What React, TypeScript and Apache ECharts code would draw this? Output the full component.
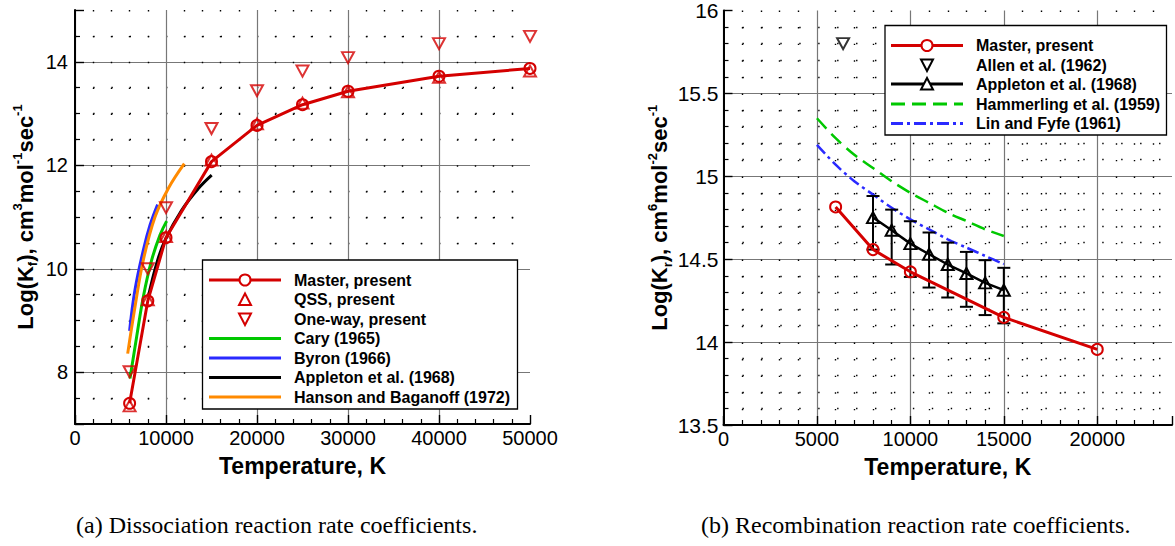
import React, { useEffect, useRef } from 'react';
import * as echarts from 'echarts';

// ---------- Panel (a): dissociation ----------
const tempA = [6000, 8000, 10000, 15000, 20000, 25000, 30000, 40000, 50000];
const masterA = [7.40, 9.38, 10.60, 12.07, 12.77, 13.17, 13.43, 13.72, 13.87];
const qssA = [7.35, 9.40, 10.62, 12.10, 12.80, 13.20, 13.42, 13.70, 13.82];
const oneWayA = [8.01, 10.00, 11.18, 12.71, 13.44, 13.82, 14.08, 14.35, 14.49];
const caryT = [6040, 6780, 7510, 8430, 9340, 10070];
const caryV = [7.88, 8.69, 9.46, 10.17, 10.65, 10.92];
const byronT = [6000, 6590, 7510, 8240, 9080];
const byronV = [8.80, 9.59, 10.36, 10.84, 11.24];
const appletonAT = [8060, 8970, 9890, 11720, 13550, 15020];
const appletonAV = [9.46, 10.10, 10.55, 11.13, 11.55, 11.81];
const hansonT = [5790, 6590, 7510, 8790, 10250, 12010];
const hansonV = [8.36, 9.26, 10.17, 11.00, 11.55, 12.03];
const legendA = ['Master, present', 'QSS, present', 'One-way, present', 'Cary (1965)', 'Byron (1966)', 'Appleton et al. (1968)', 'Hanson and Baganoff (1972)'];

// ---------- Panel (b): recombination ----------
const tempB = [6000, 8000, 10000, 15000, 20000];
const masterB = [14.815, 14.558, 14.424, 14.149, 13.956];
const allenT = [6400];
const allenV = [15.80];
const appletonBT = [8000, 9000, 10000, 11000, 12000, 13000, 14000, 15000];
const appletonBV = [14.751, 14.675, 14.594, 14.530, 14.468, 14.414, 14.357, 14.313];
const appletonBHi = [14.881, 14.799, 14.729, 14.661, 14.600, 14.544, 14.494, 14.448];
const appletonBLo = [14.558, 14.468, 14.393, 14.329, 14.269, 14.213, 14.163, 14.113];
const curveBT = [5000, 6000, 7000, 8000, 9000, 10000, 11000, 12000, 13000, 14000, 15000];
const hammerlingV = [15.35, 15.23, 15.13, 15.05, 14.97, 14.90, 14.84, 14.78, 14.73, 14.68, 14.64];
const linFyfeV = [15.19, 15.07, 14.97, 14.89, 14.81, 14.74, 14.68, 14.62, 14.57, 14.52, 14.47];
const legendB = ['Master, present', 'Allen et al. (1962)', 'Appleton et al. (1968)', 'Hammerling et al. (1959)', 'Lin and Fyfe (1961)'];

const xTicksA = { min: 0, max: 50000, interval: 10000 };
const yTicksA = { min: 7, max: 15, splitNumber: 4 };
const xTicksB = { min: 0, max: 24000, interval: 5000 };
const yTicksB = { min: 13.5, max: 16, interval: 0.5 };

const captionA = '(a) Dissociation reaction rate coefficients.';
const captionB = '(b) Recombination reaction rate coefficients.';

const RED = '#d40000';
const GREEN = '#00c800';
const BLUE = '#2a2aff';
const ORANGE = '#ff8a00';
const BLACK = '#000000';
const FONT = 'Liberation Sans';
const CLEAR = 'rgba(0,0,0,0)';
const DASH_H = [14, 7];
const DASH_L = [12, 4, 3, 4];

const zip = (xs: number[], ys: number[]) => xs.map((x, i) => [x, ys[i]]);

function axisCommon(minorSplit: number, dotPeriod: number) {
  return {
    axisLine: { show: true, onZero: false, lineStyle: { color: '#000', width: 2 } },
    axisTick: { show: true, inside: true, length: 9, lineStyle: { color: '#000', width: 1.4 } },
    minorTick: { show: true, splitNumber: minorSplit, length: 5, lineStyle: { color: '#000', width: 1.2 } },
    splitLine: { show: true, showMaxLine: false, lineStyle: { color: '#777', width: 1.2 } },
    minorSplitLine: {
      show: true,
      lineStyle: { color: '#000', width: 1.4, type: [1.4, dotPeriod - 1.4] },
    },
  };
}

const yNameRich = {
  b: { fontSize: 22, fontWeight: 'bold', fontFamily: FONT, color: '#000', lineHeight: 28, verticalAlign: 'middle' },
  sub: { fontSize: 13, fontWeight: 'bold', fontFamily: FONT, color: '#000', lineHeight: 13, verticalAlign: 'bottom' },
  sup: { fontSize: 13, fontWeight: 'bold', fontFamily: FONT, color: '#000', lineHeight: 13, verticalAlign: 'top' },
};

function legendGraphic(
  names: string[],
  kinds: { color: string; line?: boolean; dash?: number[]; marker?: 'circle' | 'up' | 'down' }[],
  box: { x: number; y: number; w: number; h: number },
  lineX1: number,
  lineX2: number,
  textX: number,
  rowY: number[],
) {
  const Z = 100;
  const children: any[] = [
    { type: 'rect', z: Z, shape: { x: box.x, y: box.y, width: box.w, height: box.h }, style: { fill: '#fff', stroke: '#000', lineWidth: 1.3 } },
  ];
  const cx = (lineX1 + lineX2) / 2;
  names.forEach((n, i) => {
    const k = kinds[i];
    const y = rowY[i];
    if (k.line) {
      children.push({
        type: 'line', z: Z + 1,
        shape: { x1: lineX1, y1: y, x2: lineX2, y2: y },
        style: { stroke: k.color, lineWidth: 3, lineDash: k.dash || null },
      });
    }
    if (k.marker === 'circle') {
      children.push({ type: 'circle', z: Z + 2, shape: { cx, cy: y, r: 5.5 }, style: { fill: '#fff', stroke: k.color, lineWidth: 2 } });
    } else if (k.marker === 'up') {
      children.push({ type: 'polygon', z: Z + 2, shape: { points: [[cx, y - 6], [cx - 6, y + 5.5], [cx + 6, y + 5.5]] }, style: { fill: '#fff', stroke: k.color, lineWidth: 2 } });
    } else if (k.marker === 'down') {
      children.push({ type: 'polygon', z: Z + 2, shape: { points: [[cx, y + 6], [cx - 6, y - 5.5], [cx + 6, y - 5.5]] }, style: { fill: '#fff', stroke: k.color, lineWidth: 2 } });
    }
    children.push({
      type: 'text', z: Z + 2,
      style: { text: n, x: textX, y, fontSize: 16, fontWeight: 'bold', fontFamily: FONT, fill: '#000', align: 'left', verticalAlign: 'middle' },
    });
  });
  return { type: 'group', z: Z, children };
}

export default function App() {
  const ref = useRef<HTMLDivElement>(null);
  useEffect(() => {
    if (!ref.current) return;
    const chart = echarts.init(ref.current, undefined, { renderer: 'svg' });

    const scatterStyle = (c: string) => ({ color: CLEAR, borderColor: c, borderWidth: 2 });
    const plain = (v: number) => String(v);

    const option: any = {
      animation: false,
      backgroundColor: '#fff',
      grid: [
        { left: 75, top: 10, width: 455, height: 414 },
        { left: 723.5, top: 10, width: 454.5, height: 415 },
      ],
      xAxis: [
        {
          gridIndex: 0, type: 'value', ...xTicksA,
          ...axisCommon(5, 414 / 16),
          name: 'Temperature, K', nameLocation: 'middle', nameGap: 30,
          nameTextStyle: { fontSize: 23, fontWeight: 'bold', fontFamily: FONT, color: '#000' },
          axisLabel: { fontSize: 20, fontFamily: FONT, color: '#000', margin: 4, formatter: plain },
        },
        {
          gridIndex: 1, type: 'value', ...xTicksB,
          ...axisCommon(5, 415 / 25),
          name: 'Temperature, K', nameLocation: 'middle', nameGap: 30,
          nameTextStyle: { fontSize: 23, fontWeight: 'bold', fontFamily: FONT, color: '#000' },
          axisLabel: {
            fontSize: 20, fontFamily: FONT, color: '#000', margin: 4,
            formatter: (v: number) => (v % 5000 === 0 ? String(v) : ''),
          },
        },
      ],
      yAxis: [
        {
          gridIndex: 0, type: 'value', ...yTicksA,
          ...axisCommon(4, 455 / 25),
          name: '{b|Log(K}{sub|f}{b|), cm}{sup|3}{b|mol}{sup|-1}{b|sec}{sup|-1}',
          nameLocation: 'middle', nameRotate: 90, nameGap: 36,
          nameTextStyle: { rich: yNameRich },
          axisLabel: {
            fontSize: 20, fontFamily: FONT, color: '#000', margin: 7,
            formatter: (v: number) => (Math.abs(v % 2) < 1e-9 ? String(v) : ''),
          },
        },
        {
          gridIndex: 1, type: 'value', ...yTicksB,
          ...axisCommon(5, 454.5 / 24),
          name: '{b|Log(K}{sub|r}{b|), cm}{sup|6}{b|mol}{sup|-2}{b|sec}{sup|-1}',
          nameLocation: 'middle', nameRotate: 90, nameGap: 48,
          nameTextStyle: { rich: yNameRich },
          axisLabel: { fontSize: 21, fontFamily: FONT, color: '#000', margin: 5, formatter: plain },
        },
      ],
      series: [
        // Panel (a)
        {
          name: 'Cary (1965)', type: 'line', xAxisIndex: 0, yAxisIndex: 0, data: zip(caryT, caryV),
          smooth: 0.4, showSymbol: false, symbol: 'none', lineStyle: { color: GREEN, width: 3 }, z: 3,
        },
        {
          name: 'Byron (1966)', type: 'line', xAxisIndex: 0, yAxisIndex: 0, data: zip(byronT, byronV),
          smooth: 0.4, showSymbol: false, symbol: 'none', lineStyle: { color: BLUE, width: 3 }, z: 3,
        },
        {
          name: 'Hanson and Baganoff (1972)', type: 'line', xAxisIndex: 0, yAxisIndex: 0, data: zip(hansonT, hansonV),
          smooth: 0.4, showSymbol: false, symbol: 'none', lineStyle: { color: ORANGE, width: 3 }, z: 3,
        },
        {
          name: 'Appleton et al. (1968)', type: 'line', xAxisIndex: 0, yAxisIndex: 0, data: zip(appletonAT, appletonAV),
          smooth: 0.4, showSymbol: false, symbol: 'none', lineStyle: { color: BLACK, width: 3 }, z: 3,
        },
        {
          name: 'Master, present', type: 'line', xAxisIndex: 0, yAxisIndex: 0, data: zip(tempA, masterA),
          symbol: 'circle', symbolSize: 11, lineStyle: { color: RED, width: 3 }, itemStyle: scatterStyle(RED), z: 4,
        },
        {
          name: 'QSS, present', type: 'scatter', xAxisIndex: 0, yAxisIndex: 0, data: zip(tempA, qssA),
          symbol: 'triangle', symbolSize: [12, 11], itemStyle: scatterStyle(RED), z: 5,
        },
        {
          name: 'One-way, present', type: 'scatter', xAxisIndex: 0, yAxisIndex: 0, data: zip(tempA, oneWayA),
          symbol: 'triangle', symbolRotate: 180, symbolSize: [12, 11], itemStyle: scatterStyle(RED), z: 5,
        },
        // Panel (b)
        {
          name: 'Hammerling et al. (1959)', type: 'line', xAxisIndex: 1, yAxisIndex: 1, data: zip(curveBT, hammerlingV),
          smooth: 0.3, showSymbol: false, symbol: 'none', lineStyle: { color: GREEN, width: 2.5, type: DASH_H }, z: 3,
        },
        {
          name: 'Lin and Fyfe (1961)', type: 'line', xAxisIndex: 1, yAxisIndex: 1, data: zip(curveBT, linFyfeV),
          smooth: 0.3, showSymbol: false, symbol: 'none', lineStyle: { color: BLUE, width: 2.5, type: DASH_L }, z: 3,
        },
        {
          name: 'Appleton error', type: 'custom', xAxisIndex: 1, yAxisIndex: 1,
          data: appletonBT.map((t, i) => [t, appletonBLo[i], appletonBHi[i]]),
          encode: { x: 0, y: [1, 2] }, z: 4,
          renderItem: (_p: any, api: any) => {
            const t = api.value(0);
            const hi = api.coord([t, api.value(2)]);
            const lo = api.coord([t, api.value(1)]);
            const w = 6.5;
            const st = { stroke: '#000', lineWidth: 2 };
            return {
              type: 'group',
              children: [
                { type: 'line', shape: { x1: hi[0], y1: hi[1], x2: lo[0], y2: lo[1] }, style: st },
                { type: 'line', shape: { x1: hi[0] - w, y1: hi[1], x2: hi[0] + w, y2: hi[1] }, style: st },
                { type: 'line', shape: { x1: lo[0] - w, y1: lo[1], x2: lo[0] + w, y2: lo[1] }, style: st },
              ],
            };
          },
        },
        {
          name: 'Appleton et al. (1968) b', type: 'line', xAxisIndex: 1, yAxisIndex: 1, data: zip(appletonBT, appletonBV),
          symbol: 'triangle', symbolSize: [12, 11], lineStyle: { color: BLACK, width: 2.5 }, itemStyle: scatterStyle(BLACK), z: 5,
        },
        {
          name: 'Master, present b', type: 'line', xAxisIndex: 1, yAxisIndex: 1, data: zip(tempB, masterB),
          symbol: 'circle', symbolSize: 11, lineStyle: { color: RED, width: 3 }, itemStyle: scatterStyle(RED), z: 5,
        },
        {
          name: 'Allen et al. (1962)', type: 'scatter', xAxisIndex: 1, yAxisIndex: 1, data: zip(allenT, allenV),
          symbol: 'triangle', symbolRotate: 180, symbolSize: [12, 11], itemStyle: scatterStyle(BLACK), z: 5,
        },
      ],
      graphic: [
        legendGraphic(
          legendA,
          [
            { color: RED, line: true, marker: 'circle' },
            { color: RED, marker: 'up' },
            { color: RED, marker: 'down' },
            { color: GREEN, line: true },
            { color: BLUE, line: true },
            { color: BLACK, line: true },
            { color: ORANGE, line: true },
          ],
          { x: 202.5, y: 260, w: 315, h: 149 },
          209, 281, 294,
          [280, 299.5, 319, 338.5, 358, 377.5, 397],
        ),
        legendGraphic(
          legendB,
          [
            { color: RED, line: true, marker: 'circle' },
            { color: BLACK, marker: 'down' },
            { color: BLACK, line: true, marker: 'up' },
            { color: GREEN, line: true, dash: DASH_H },
            { color: BLUE, line: true, dash: DASH_L },
          ],
          { x: 885, y: 25.5, w: 281.5, h: 109.5 },
          891, 963, 976,
          [45.5, 65, 84, 104, 123.5],
        ),
        {
          type: 'text', z: 100,
          style: { text: captionA, x: 76, y: 525, fontSize: 24, fontFamily: 'Liberation Serif', fill: '#000', align: 'left', verticalAlign: 'middle' },
        },
        {
          type: 'text', z: 100,
          style: { text: captionB, x: 701, y: 525, fontSize: 24, fontFamily: 'Liberation Serif', fill: '#000', align: 'left', verticalAlign: 'middle' },
        },
      ],
    };
    chart.setOption(option);
    return () => chart.dispose();
  }, []);
  return <div ref={ref} style={{ position: 'fixed', left: 0, top: 0, width: 1175, height: 546 }} />;
}
